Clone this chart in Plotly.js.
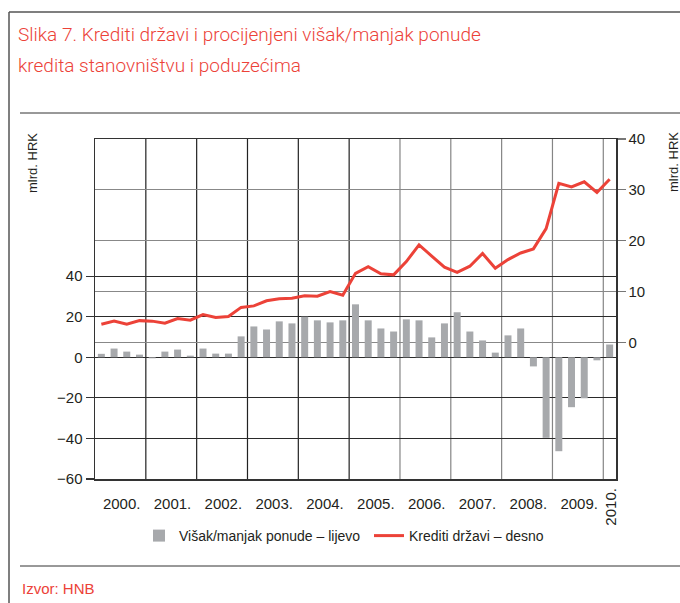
<!DOCTYPE html>
<html><head><meta charset="utf-8">
<script src="https://cdn.plot.ly/plotly-3.0.1.min.js"></script>
<style>html,body{margin:0;padding:0;background:#fff}#chart{width:680px;height:603px}</style>
</head><body><div id="chart"></div>
<script>
// ---- data ----
const quarters = ['2000 Q1','2000 Q2','2000 Q3','2000 Q4','2001 Q1','2001 Q2','2001 Q3','2001 Q4',
  '2002 Q1','2002 Q2','2002 Q3','2002 Q4','2003 Q1','2003 Q2','2003 Q3','2003 Q4',
  '2004 Q1','2004 Q2','2004 Q3','2004 Q4','2005 Q1','2005 Q2','2005 Q3','2005 Q4',
  '2006 Q1','2006 Q2','2006 Q3','2006 Q4','2007 Q1','2007 Q2','2007 Q3','2007 Q4',
  '2008 Q1','2008 Q2','2008 Q3','2008 Q4','2009 Q1','2009 Q2','2009 Q3','2009 Q4','2010 Q1'];
const surplus = [1.7, 4.3, 2.8, 1.3, -0.5, 2.8, 3.8, 0.8, 4.3, 1.8, 1.8, 10.3, 15.2, 13.7, 17.7, 16.7,
  20.0, 18.2, 17.2, 18.2, 26.1, 18.2, 14.2, 12.7, 18.7, 18.2, 9.8, 16.7, 22.2, 12.7, 8.3, 2.3,
  10.8, 14.2, -4.5, -39.7, -46.3, -24.6, -20.2, -1.5, 6.3];
const govCredit = [3.6, 4.2, 3.6, 4.3, 4.2, 3.8, 4.7, 4.4, 5.5, 4.9, 5.1, 6.9, 7.2, 8.2, 8.6, 8.7,
  9.2, 9.1, 10.0, 9.3, 13.6, 14.9, 13.5, 13.3, 15.9, 19.2, 17.0, 14.8, 13.8, 15.0, 17.5, 14.6,
  16.3, 17.6, 18.4, 22.4, 31.3, 30.6, 31.6, 29.5, 32.1];
const yearLabels = ['2000.','2001.','2002.','2003.','2004.','2005.','2006.','2007.','2008.','2009.'];
const lastYearLabel = '2010.';
const leftTicks = [-60, -40, -20, 0, 20, 40];
const rightTicks = [0, 10, 20, 30, 40];
const seriesNames = ['Višak/manjak ponude – lijevo', 'Krediti državi – desno'];
const titleLines = ['Slika 7. Krediti državi i procijenjeni višak/manjak ponude', 'kredita stanovništvu i poduzećima'];
const unitLabel = 'mlrd. HRK';
const sourceText = 'Izvor: HNB';

// ---- layout helpers ----
const L = 95, R = 616, T = 139, B = 479;
const px = x => (x - L) / (R - L);
const py = y => (B - y) / (B - T);
const xIdx = quarters.map((q, i) => i);
const RED = '#ec4238';
const TXT = '#231f20';
const SANS = '"Liberation Sans", Arial, sans-serif';

const traces = [
  {type: 'bar', x: xIdx, y: surplus, name: seriesNames[0], marker: {color: '#a7a9ac'}, width: 0.55,
   yaxis: 'y', hoverinfo: 'skip'},
  {type: 'scatter', mode: 'lines', x: xIdx, y: govCredit, name: seriesNames[1], yaxis: 'y2',
   line: {color: RED, width: 3}, hoverinfo: 'skip'}
];

const shapes = [];
// year separators
for (let k = 1; k <= yearLabels.length; k++) {
  shapes.push({type: 'line', xref: 'x', yref: 'paper', x0: 4 * k - 0.5, x1: 4 * k - 0.5, y0: 0, y1: 1,
    layer: 'below', line: {color: k <= 5 ? '#222' : '#858585', width: 1.2}});
}
// frame and separators
shapes.push({type: 'line', xref: 'paper', yref: 'paper', x0: px(9), x1: px(680), y0: py(12), y1: py(12), line: {color: '#555', width: 1.5}});
shapes.push({type: 'line', xref: 'paper', yref: 'paper', x0: px(9), x1: px(9), y0: py(12), y1: py(603), line: {color: '#555', width: 1.5}});
shapes.push({type: 'line', xref: 'paper', yref: 'paper', x0: px(20), x1: px(680), y0: py(113), y1: py(113), line: {color: '#333', width: 1}});
shapes.push({type: 'line', xref: 'paper', yref: 'paper', x0: px(20), x1: px(680), y0: py(566), y1: py(566), line: {color: '#333', width: 1}});

const titleFont = {family: 'Roboto, sans-serif', size: 19, weight: 300, color: RED};
const annotations = [
  {text: titleLines[0], xref: 'paper', yref: 'paper', x: px(16), y: py(35), xanchor: 'left', yanchor: 'middle',
   showarrow: false, font: titleFont},
  {text: titleLines[1], xref: 'paper', yref: 'paper', x: px(16), y: py(65), xanchor: 'left', yanchor: 'middle',
   showarrow: false, font: titleFont},
  {text: unitLabel, xref: 'paper', yref: 'paper', x: px(32), y: py(163), textangle: -90, xanchor: 'center', yanchor: 'middle',
   showarrow: false, font: {family: SANS, size: 13, color: TXT}},
  {text: unitLabel, xref: 'paper', yref: 'paper', x: px(673), y: py(162), textangle: -90, xanchor: 'center', yanchor: 'middle',
   showarrow: false, font: {family: SANS, size: 13, color: TXT}},
  {text: lastYearLabel, xref: 'x', yref: 'paper', x: quarters.length - 1, y: py(507), textangle: -90, xanchor: 'center', yanchor: 'middle',
   showarrow: false, font: {family: SANS, size: 15, color: TXT}},
  {text: sourceText, xref: 'paper', yref: 'paper', x: px(20), y: py(588), xanchor: 'left', yanchor: 'middle',
   showarrow: false, font: {family: SANS, size: 15, color: RED}}
];

const layout = {
  width: 680, height: 603,
  margin: {l: L, r: 680 - R, t: T, b: 603 - B, pad: 0},
  paper_bgcolor: '#fff', plot_bgcolor: '#fff',
  font: {family: SANS, size: 15, color: TXT},
  showlegend: true,
  legend: {orientation: 'h', x: px(139), xanchor: 'left', y: py(536), yanchor: 'middle',
    entrywidth: 185, entrywidthmode: 'pixels',
    font: {family: SANS, size: 14, color: TXT}, bgcolor: 'rgba(0,0,0,0)', itemclick: false},
  xaxis: {range: [-0.5, quarters.length - 0.5], tickmode: 'array',
    tickvals: yearLabels.map((_, k) => 4 * k + 1.6), ticktext: yearLabels,
    ticks: 'outside', ticklen: 10, tickcolor: 'rgba(0,0,0,0)', showgrid: false, zeroline: false,
    showline: true, mirror: true, linecolor: '#333', linewidth: 1.5, fixedrange: true},
  yaxis: {range: [-60, 107.6], tickmode: 'array', tickvals: leftTicks, ticks: 'outside', ticklen: 8,
    tickcolor: '#333', tickwidth: 1.2, showgrid: true, gridcolor: '#2a2a2a', gridwidth: 1.2,
    zeroline: false, showline: true, linecolor: '#333', linewidth: 1.5, fixedrange: true},
  yaxis2: {overlaying: 'y', side: 'right', range: [-26.83, 40], tickmode: 'array', tickvals: rightTicks,
    ticks: 'outside', ticklen: 8, tickcolor: '#777', tickwidth: 1.2, showgrid: true, gridcolor: '#888',
    gridwidth: 1.2, zeroline: false, showline: true, linecolor: '#333', linewidth: 1.5, fixedrange: true},
  shapes: shapes,
  annotations: annotations
};

Plotly.newPlot('chart', traces, layout, {displayModeBar: false, staticPlot: true});
</script>
</body></html>
